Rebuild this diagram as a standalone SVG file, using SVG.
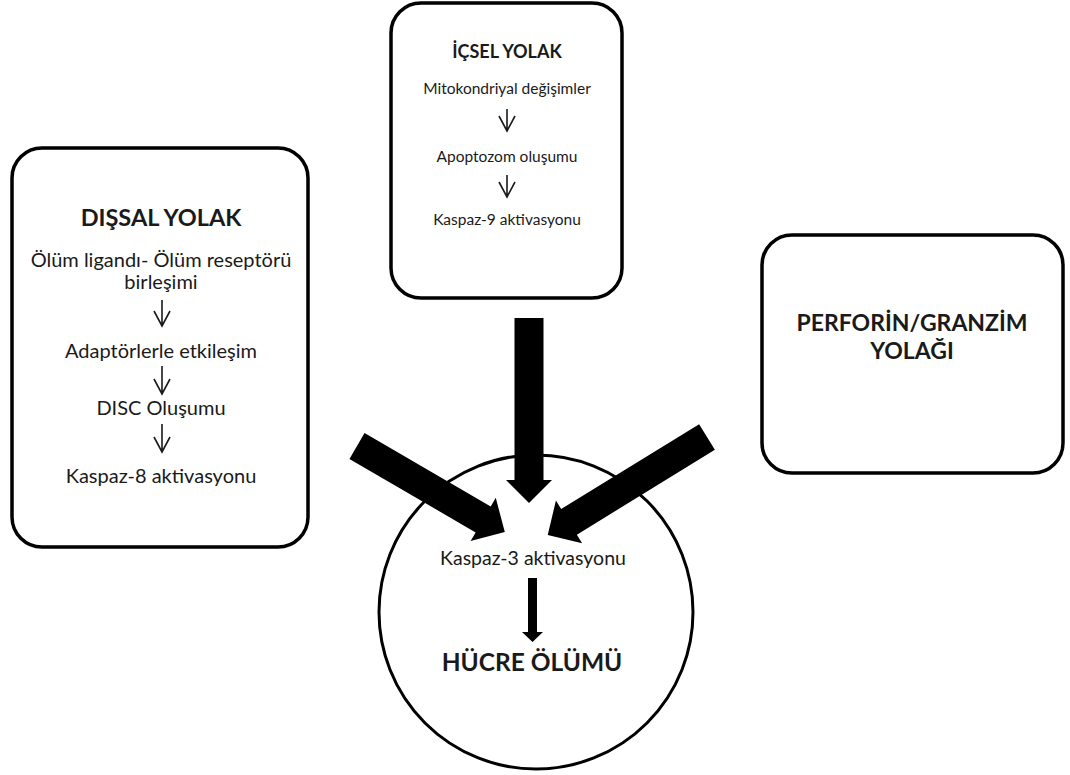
<svg xmlns="http://www.w3.org/2000/svg" width="1070" height="775" viewBox="0 0 1070 775">
<style>
.box{fill:#fff;stroke:#000;stroke-width:3.5}
.t{font-family:Lato,"Open Sans","Liberation Sans",sans-serif;fill:#1a1a1a;text-anchor:middle}
.b{font-weight:bold}
.thin{fill:none;stroke:#1a1a1a;stroke-width:1.6}
.big{fill:#000}
</style>
<rect width="1070" height="775" fill="#fff"/>
<g id="icsel">
<rect class="box" x="391" y="3" width="231" height="295" rx="30"/>
<text class="t b" x="507" y="58" font-size="18">İÇSEL YOLAK</text>
<text class="t" x="507" y="94" font-size="15.5">Mitokondriyal değişimler</text>
<path class="thin" d="M507 109V131M499 116L507 131L515 116"/>
<text class="t" x="507" y="162" font-size="15.5">Apoptozom oluşumu</text>
<path class="thin" d="M507 175V197M499 182L507 197L515 182"/>
<text class="t" x="507" y="225" font-size="15.5">Kaspaz-9 aktivasyonu</text>
</g>
<g id="dissal">
<rect class="box" x="12" y="148" width="296" height="399" rx="30"/>
<text class="t b" x="161" y="226" font-size="23.5">DIŞSAL YOLAK</text>
<text class="t" x="161" y="267" font-size="20">Ölüm ligandı- Ölüm reseptörü<tspan x="161" dy="22">birleşimi</tspan></text>
<path class="thin" d="M162 300V326M154 311L162 326L170 311"/>
<text class="t" x="161" y="358" font-size="20">Adaptörlerle etkileşim</text>
<path class="thin" d="M162 366V394M154 379L162 394L170 379"/>
<text class="t" x="161" y="415" font-size="20">DISC Oluşumu</text>
<path class="thin" d="M162 424V452M154 437L162 452L170 437"/>
<text class="t" x="161" y="483" font-size="20">Kaspaz-8 aktivasyonu</text>
</g>
<g id="perforin">
<rect class="box" x="762" y="235" width="301" height="238" rx="30"/>
<text class="t b" x="912" y="331" font-size="23">PERFORİN/GRANZİM<tspan x="912" dy="27.5">YOLAĞI</tspan></text>
</g>
<g id="hucre">
<circle cx="536" cy="612" r="157" fill="#fff" stroke="#000" stroke-width="3"/>
<text class="t" x="533" y="565" font-size="19.5">Kaspaz-3 aktivasyonu</text>
<text class="t b" x="532" y="671" font-size="24.5">HÜCRE ÖLÜMÜ</text>
</g>
<g id="connectors">
<polygon class="big" points="0,-14.5 162,-14.5 162,-23 185,0 162,23 162,14.5 0,14.5" transform="translate(529,318) rotate(90)"/>
<polygon class="big" points="0,-15 146,-15 146,-25 171,0 146,25 146,15 0,15" transform="translate(357,446) rotate(30.2)"/>
<polygon class="big" points="0,-15 162,-15 162,-25 187,0 162,25 162,15 0,15" transform="translate(707,437) rotate(148.4)"/>
<polygon class="big" points="528,578 537,578 537,632 543,632 532.5,642 522,632 528,632"/>
</g>
</svg>
